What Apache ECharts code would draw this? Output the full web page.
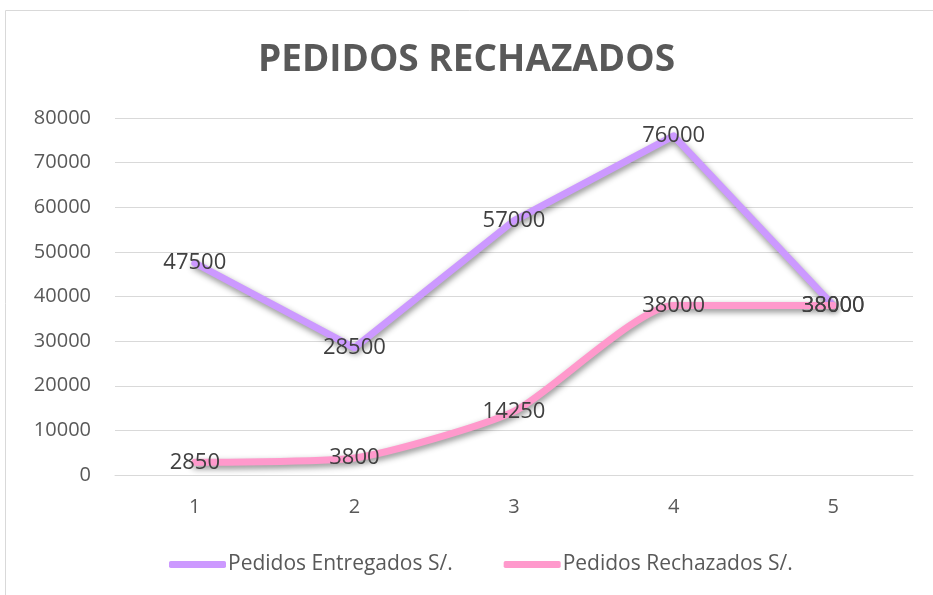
<!DOCTYPE html>
<html><head><meta charset="utf-8">
<script src="https://cdn.jsdelivr.net/npm/echarts@6/dist/echarts.min.js"></script>
<style>html,body{margin:0;padding:0;background:#fff}#c{width:933px;height:595px}</style>
</head><body><div id="c"></div>
<script>
const categories = ['1','2','3','4','5'];
const entregados = [47500, 28500, 57000, 76000, 38000];
const rechazados = [2850, 3800, 14250, 38000, 38000];
const seriesNames = ['Pedidos Entregados S/.', 'Pedidos Rechazados S/.'];
const titleText = 'PEDIDOS RECHAZADOS';

const chart = echarts.init(document.getElementById('c'));
const font = '"Open Sans", "Noto Sans", sans-serif';
const shadow = {shadowColor:'rgba(0,0,0,0.45)', shadowBlur:6, shadowOffsetX:1, shadowOffsetY:3};
const lbl = {show:true, position:'inside', fontFamily:font, fontSize:22, color:'#404040'};
chart.setOption({
  animation:false,
  graphic:[{type:'rect', shape:{x:5.5,y:10.5,width:940,height:600}, style:{fill:'none', stroke:'#d9d9d9', lineWidth:1}}],
  title:{text:titleText, left:'center', top:37, textStyle:{fontFamily:font, fontSize:37, fontWeight:'bold', color:'#595959'}},
  grid:{left:115, right:20, top:118, bottom:120},
  legend:{top:549, left:164, itemWidth:57, itemHeight:7, itemGap:51, icon:'roundRect',
    textStyle:{fontFamily:font, fontSize:21, color:'#595959', padding:[0,0,0,-3]}, data:seriesNames},
  xAxis:{type:'category', data:categories, boundaryGap:true,
    axisLine:{lineStyle:{color:'#d9d9d9'}}, axisTick:{show:false},
    axisLabel:{fontFamily:font, fontSize:20, color:'#595959', margin:22}},
  yAxis:{type:'value', min:0, max:80000, interval:10000,
    axisLine:{show:false}, axisTick:{show:false},
    splitLine:{lineStyle:{color:'#d9d9d9'}},
    axisLabel:{fontFamily:font, fontSize:20, color:'#595959', margin:24, formatter:v => String(v)}},
  series:[
    {name:seriesNames[0], type:'line', data:entregados, symbol:'circle', symbolSize:2, showSymbol:true, smooth:false,
     lineStyle:Object.assign({color:'#cc99ff', width:7, cap:'round', join:'round'}, shadow),
     itemStyle:{color:'#cc99ff'},
     label:lbl},
    {name:seriesNames[1], type:'line', data:rechazados, symbol:'circle', symbolSize:2, showSymbol:true, smooth:0.2,
     lineStyle:Object.assign({color:'#ff99cc', width:7, cap:'round', join:'round'}, shadow),
     itemStyle:{color:'#ff99cc'},
     label:lbl}
  ]
});
</script></body></html>
